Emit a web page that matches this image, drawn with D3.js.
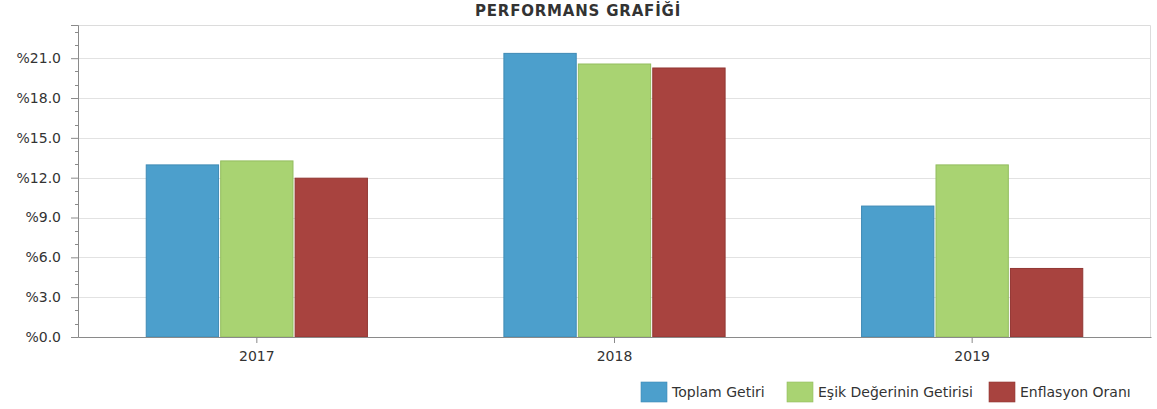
<!DOCTYPE html>
<html>
<head>
<meta charset="utf-8">
<script src="https://cdn.jsdelivr.net/npm/d3@7"></script>
<style>
  body { margin: 0; background: #fff; }
  text { font-family: "DejaVu Sans", Verdana, sans-serif; fill: #333; }
</style>
</head>
<body>
<svg id="chart" width="1157" height="409"></svg>
<script>
const years = ["2017", "2018", "2019"];
const seriesNames = ["Toplam Getiri", "Eşik Değerinin Getirisi", "Enflasyon Oranı"];
const toplamGetiri = [13.0, 21.4, 9.9];
const esikGetirisi = [13.3, 20.6, 13.0];
const enflasyonOrani = [12.0, 20.3, 5.2];
const yTicks = [0, 3, 6, 9, 12, 15, 18, 21];

const seriesValues = [toplamGetiri, esikGetirisi, enflasyonOrani];
const fills = ["#4c9fcc", "#a9d372", "#a8433f"];
const strokes = ["#3f8ab5", "#93bd5f", "#913733"];

const svg = d3.select("#chart");
const margin = { top: 25, right: 6, bottom: 72, left: 78 };
const width = 1157 - margin.left - margin.right;
const height = 409 - margin.top - margin.bottom;

// title
svg.append("text")
  .attr("x", 578)
  .attr("y", 16)
  .attr("text-anchor", "middle")
  .style("font-size", "15px")
  .style("font-weight", "bold")
  .style("letter-spacing", "0.8px")
  .text("PERFORMANS GRAFİĞİ");

const g = svg.append("g").attr("transform", `translate(${margin.left},${margin.top})`);

const x0 = d3.scaleBand().domain(years).range([0, width]);
const x1 = d3.scaleBand().domain(seriesNames).range([0, x0.bandwidth()])
  .paddingInner(0.015).paddingOuter(0.91);
const y = d3.scaleLinear().domain([0, 23.5]).range([height, 0]);

// grid
g.append("g")
  .selectAll("line")
  .data(yTicks.slice(1))
  .enter()
  .append("line")
  .attr("x1", 0)
  .attr("x2", width)
  .attr("y1", (d) => Math.round(y(d)) + 0.5)
  .attr("y2", (d) => Math.round(y(d)) + 0.5)
  .attr("stroke", "#e2e2e2");

// frame top / right
g.append("path")
  .attr("d", `M0,0.5H${width - 0.5}V${height}`)
  .attr("fill", "none")
  .attr("stroke", "#dcdcdc");

// bars
const groups = g.selectAll(".year")
  .data(years)
  .enter()
  .append("g")
  .attr("transform", (d) => `translate(${x0(d)},0)`);

groups.selectAll("rect")
  .data((d, i) => seriesNames.map((s, j) => ({ s: s, j: j, v: seriesValues[j][i] })))
  .enter()
  .append("rect")
  .attr("x", (d) => x1(d.s) + 0.5)
  .attr("y", (d) => y(d.v) + 0.5)
  .attr("width", x1.bandwidth() - 1)
  .attr("height", (d) => height - y(d.v) - 0.5)
  .attr("fill", (d) => fills[d.j])
  .attr("stroke", (d) => strokes[d.j]);

// y axis
const yAxis = g.append("g")
  .call(d3.axisLeft(y).tickValues(yTicks).tickSize(7).tickPadding(10)
    .tickFormat((d) => "%" + d.toFixed(1)));
yAxis.select(".domain").attr("stroke", "#8a8a8a");
yAxis.selectAll(".tick line").attr("stroke", "#8a8a8a");
yAxis.selectAll("text").style("font-size", "14px").attr("fill", "#333");

g.append("g")
  .selectAll("line")
  .data(d3.range(0, 24).filter((d) => d % 3 !== 0))
  .enter()
  .append("line")
  .attr("x1", -3)
  .attr("x2", 0)
  .attr("y1", (d) => Math.round(y(d)) + 0.5)
  .attr("y2", (d) => Math.round(y(d)) + 0.5)
  .attr("stroke", "#8a8a8a");

// x axis
const xAxis = g.append("g")
  .attr("transform", `translate(0,${height})`)
  .call(d3.axisBottom(x0).tickSize(6).tickSizeOuter(0).tickPadding(8));
xAxis.select(".domain").attr("stroke", "#8a8a8a");
xAxis.selectAll(".tick line").attr("stroke", "#8a8a8a");
xAxis.selectAll("text").style("font-size", "14px").attr("fill", "#333");

// legend
const legendX = [641, 787, 989];
const legend = svg.append("g").attr("id", "legend");
const items = legend.selectAll("g")
  .data(seriesNames)
  .enter()
  .append("g")
  .attr("transform", (d, i) => `translate(${legendX[i]},0)`);
items.append("rect")
  .attr("width", 26)
  .attr("height", 20)
  .attr("y", 382)
  .attr("fill", (d, i) => fills[i])
  .attr("stroke", (d, i) => strokes[i])
  .attr("stroke-width", 0.6);
items.append("text")
  .attr("x", 31)
  .attr("y", 397)
  .style("font-size", "14px")
  .text((d) => d);
</script>
</body>
</html>
